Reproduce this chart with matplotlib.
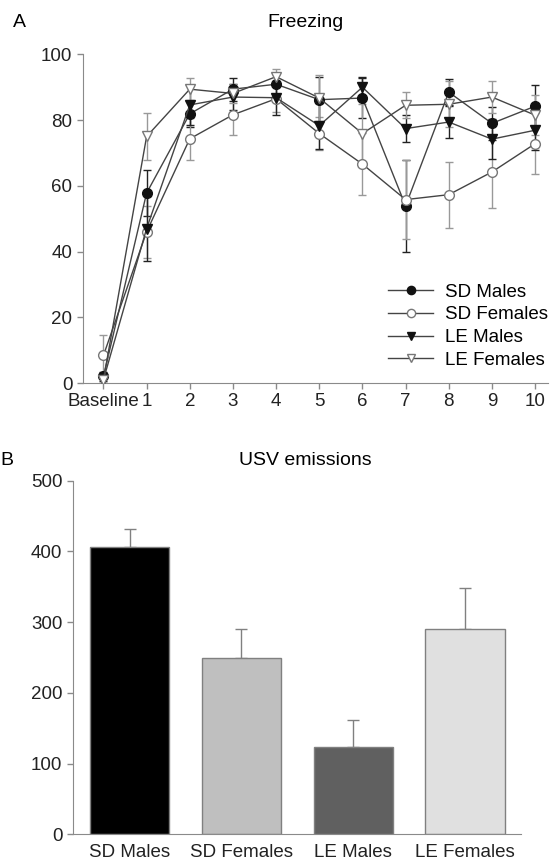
import matplotlib.pyplot as plt
import numpy as np

plt.rcParams['font.family'] = ['Liberation Sans', 'DejaVu Sans']
plt.rcParams['font.size'] = 13.5

# Panel A: freezing (%) per session
sessions = ['Baseline', '1', '2', '3', '4', '5', '6', '7', '8', '9', '10']
sd_males = [2, 57.8, 81.9, 89.4, 90.9, 86.2, 86.7, 53.9, 88.5, 79.0, 84.2]
sd_males_err = [1.5, 7, 4, 3.5, 3, 7, 6, 14, 4, 5, 6.4]
sd_females = [8.4, 46, 74.3, 81.6, 86.5, 75.9, 66.6, 55.8, 57.3, 64.2, 72.8]
sd_females_err = [6.3, 8, 6.4, 6, 4, 5, 9.5, 12, 10, 11, 9.3]
le_males = [1, 47, 84.6, 87, 86.8, 78.3, 90, 77.4, 79.4, 74.2, 76.9]
le_males_err = [1, 10, 6, 4, 5.2, 7, 3, 4, 5, 6, 6]
le_females = [1, 75, 89.4, 88.1, 93.2, 86.7, 75.9, 84.5, 84.8, 87, 81.5]
le_females_err = [1, 7, 3.3, 3, 2.2, 7, 9, 4, 7, 5, 6]

# Panel B: USV emissions
groups = ['SD Males', 'SD Females', 'LE Males', 'LE Females']
usv = [406, 249, 124, 290]
usv_err = [26, 41, 38, 58]
bar_colors = ['#000000', '#bfbfbf', '#606060', '#e0e0e0']

fig = plt.figure(figsize=(5.53, 8.65), dpi=100)
spine_c = '#8a8a8a'

# ---- Panel A ----
ax1 = fig.add_axes([0.1496, 0.5572, 0.8414, 0.38])
x = np.arange(len(sessions))
series = [
    ('SD Males', sd_males, sd_males_err, 'o', '#111111', '#222222'),
    ('SD Females', sd_females, sd_females_err, 'o', 'white', '#999999'),
    ('LE Males', le_males, le_males_err, 'v', '#111111', '#222222'),
    ('LE Females', le_females, le_females_err, 'v', 'white', '#999999'),
]
for label, vals, err, mk, fc, ec in series:
    ax1.errorbar(x, vals, yerr=err, fmt='none', ecolor=ec, elinewidth=1,
                 capsize=3, capthick=1, zorder=2)
    ax1.plot(x, vals, '-', color='#444444', linewidth=1, marker=mk,
             markersize=7, markerfacecolor=fc,
             markeredgecolor='#111111' if fc != 'white' else '#777777',
             markeredgewidth=1, label=label, zorder=3)

ax1.set_xlim(-0.48, 10.3)
ax1.set_ylim(0, 100)
ax1.set_yticks([0, 20, 40, 60, 80, 100])
ax1.set_xticks(x)
ax1.set_xticklabels(sessions)
for s in ['top', 'right']:
    ax1.spines[s].set_visible(False)
for s in ['left', 'bottom']:
    ax1.spines[s].set_color(spine_c)
ax1.tick_params(colors=spine_c, labelcolor='#222222', length=4, width=1)
ax1.legend(loc='lower right', bbox_to_anchor=(1.015, 0.02), frameon=False,
           handlelength=2.4, handletextpad=0.6, labelspacing=0.3,
           borderaxespad=0.0, fontsize=13.5, markerscale=0.85)

fig.text(0.036, 0.974, 'A', fontsize=14, va='center', ha='center')
fig.text(0.553, 0.974, 'Freezing', fontsize=14, va='center', ha='center')

# ---- Panel B ----
ax2 = fig.add_axes([0.1315, 0.0355, 0.8105, 0.4088])
xb = np.arange(len(groups))
ax2.bar(xb, usv, width=0.71, color=bar_colors, edgecolor='#808080',
        linewidth=1, zorder=2)
ax2.errorbar(xb, usv, yerr=[np.zeros(len(usv)), usv_err], fmt='none',
             ecolor='#808080', elinewidth=1, capsize=4, capthick=1, zorder=1)
ax2.set_xlim(-0.51, 3.5)
ax2.set_ylim(0, 500)
ax2.set_yticks([0, 100, 200, 300, 400, 500])
ax2.set_xticks(xb)
ax2.set_xticklabels(groups)
for s in ['top', 'right']:
    ax2.spines[s].set_visible(False)
for s in ['left', 'bottom']:
    ax2.spines[s].set_color(spine_c)
ax2.tick_params(axis='y', colors=spine_c, labelcolor='#222222', length=4, width=1)
ax2.tick_params(axis='x', length=0, labelcolor='#222222', pad=7)

fig.text(0.001, 0.468, 'B', fontsize=14, va='center', ha='left')
fig.text(0.553, 0.468, 'USV emissions', fontsize=14, va='center', ha='center')

plt.savefig('out.png', dpi=100)
